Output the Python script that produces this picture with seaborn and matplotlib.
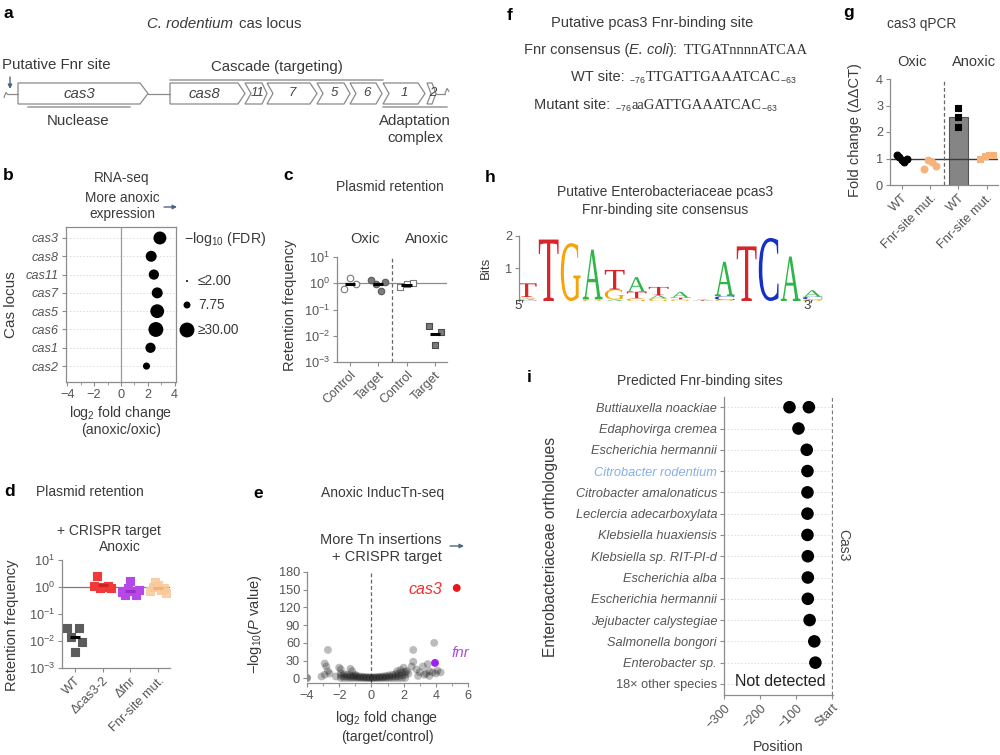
import numpy as np
import pandas as pd
import matplotlib
matplotlib.use("Agg")
import matplotlib.pyplot as plt
import seaborn as sns
from matplotlib.patches import Polygon, PathPatch
from matplotlib.textpath import TextPath
from matplotlib.font_manager import FontProperties
from matplotlib.transforms import Affine2D
from matplotlib.offsetbox import TextArea, HPacker, AnnotationBbox, DrawingArea
from matplotlib.ticker import FixedLocator, MultipleLocator, LogFormatterMathtext, NullLocator

# ---------------- data ----------------
# a: gene diagram
a_genes = ["cas3", "cas8", "11", "7", "5", "6", "1", "2"]

# b: RNA-seq
b_genes = ["cas3", "cas8", "cas11", "cas7", "cas5", "cas6", "cas1", "cas2"]
b_log2fc = [2.9, 2.25, 2.45, 2.7, 2.7, 2.6, 2.2, 1.9]
b_fdr = [23, 17, 15, 17, 26, 30, 15, 8]
b_legend_vals = [2.0, 7.75, 30.0]
b_legend_labels = ["\u22642.00", "7.75", "\u226530.00"]

# c: plasmid retention
c_labels = ["Control", "Target", "Control", "Target"]
c_ctrl_oxic = [0.6, 1.6, 0.9]
c_tgt_oxic = [1.3, 0.95, 0.52, 1.1]
c_ctrl_anox = [0.7, 0.95, 1.0]
c_tgt_anox = [0.024, 0.0045, 0.0135]

# d: plasmid retention + CRISPR target, anoxic
d_labels = ["WT", "\u0394cas3-2", "\u0394fnr", "Fnr-site mut."]
d_wt = [0.03, 0.014, 0.004, 0.03, 0.009]
d_cas3 = [1.1, 2.5, 0.95, 1.0, 1.0, 1.05, 0.9]
d_fnr = [0.65, 0.5, 0.9, 1.6, 0.7, 0.5, 0.75]
d_site = [0.7, 1.0, 1.5, 1.2, 0.8, 0.9, 0.6]

# e: InducTn-seq volcano
e_band_x = [-1.9, -1.7, -1.5, -1.3, -1.1, -0.9, -0.7, -0.5, -0.3, -0.1, 0.1,
            0.3, 0.5, 0.7, 0.9, 1.1, 1.3, 1.5, 1.7, 1.9, 2.1]
e_band_hi = [8, 7, 6, 5, 4.5, 4, 3, 2.5, 2, 1.5, 1.5, 2, 2.5, 3, 4, 5, 6, 7, 8, 10, 11]
e_band_mid = [4, 3.5, 3, 2.5, 2.5, 2, 1.5, 1.5, 1, 1, 1, 1, 1.5, 1.5, 2, 2.5, 3, 3.5, 4, 5, 6]
e_band_lo = [0.5, 0.5, 0.5, 0.5, 0.5, 0.5, 0.5, 0.5, 0.5, 0.5, 0.5, 0.5, 0.5, 0.5,
             0.5, 0.5, 0.5, 0.5, 0.5, 0.5, 0.5]
e_out_x = [-4.0, -4.0, -3.1, -2.9, -2.8, -2.7, -2.7, -2.6, -2.9, -2.2, -2.0, -1.9,
           -1.3, -1.2, -1.0, 1.6, 1.8, 2.0, 2.2, 2.3, 2.5, 2.6, 2.6, 2.8, 3.0, 3.2,
           3.4, 3.5, 3.6, 3.8, 3.9, 4.1, 4.3, 3.3, 2.9, 3.6, 4.0]
e_out_y = [0, 1, 3, 25, 20, 48, 12, 8, 6, 3, 18, 15, 16, 12, 6, 12, 14, 18, 12, 8,
           20, 28, 48, 15, 10, 20, 8, 24, 12, 10, 60, 13, 10, 6, 4, 4, 8]
e_cas3 = (5.3, 153)
e_fnr = (3.95, 26)

# g: cas3 qPCR
g_labels = ["WT", "Fnr-site mut.", "WT", "Fnr-site mut."]
g_groups = ["WT oxic", "Site oxic", "WT anoxic", "Site anoxic"]
g_wt_oxic = [1.12, 1.05, 0.95, 0.88, 1.0]
g_site_oxic = [0.6, 0.95, 0.85, 0.72]
g_wt_anox = [2.9, 2.55, 2.2]
g_site_anox = [0.97, 1.1, 1.13, 1.12]

# h: sequence logo (bits per letter, positions 1..14)
logo_A = [0.04, 0, 0, 1.52, 0.05, 0.45, 0.10, 0.18, 0.03, 1.05, 0, 0, 1.36, 0.20]
logo_C = [0.03, 0, 0, 0, 0, 0, 0, 0, 0, 0.12, 0, 1.93, 0, 0.08]
logo_G = [0.05, 0, 1.77, 0.05, 0.30, 0.08, 0.08, 0.05, 0, 0.03, 0, 0, 0, 0.05]
logo_T = [0.42, 1.88, 0, 0, 0.60, 0.20, 0.25, 0.05, 0.02, 0, 1.67, 0, 0, 0]

# i: predicted Fnr-binding sites
i_species = ["Buttiauxella noackiae", "Edaphovirga cremea", "Escherichia hermannii",
             "Citrobacter rodentium", "Citrobacter amalonaticus", "Leclercia adecarboxylata",
             "Klebsiella huaxiensis", "Klebsiella sp. RIT-PI-d", "Escherichia alba",
             "Escherichia hermannii", "Jejubacter calystegiae", "Salmonella bongori",
             "Enterobacter sp.", "18\u00d7 other species"]
i_site_row = [0, 0, 1, 2, 3, 4, 5, 6, 7, 8, 9, 10, 11, 12]
i_site_pos = [-118, -64, -93, -70, -68, -68, -68, -68, -67, -67, -67, -62, -49, -46]

# ---------------- style ----------------
sns.set_theme(style="ticks")
plt.rcParams["font.family"] = ["Liberation Sans", "DejaVu Sans"]
plt.rcParams.update({
    "font.size": 9.5,
    "mathtext.fontset": "custom",
    "mathtext.rm": "Liberation Sans",
    "mathtext.it": "Liberation Sans:italic",
    "mathtext.bf": "Liberation Sans:bold",
    "axes.unicode_minus": True,
})

TXT = "#3a3a3a"
TICK = "#555555"
SPINE = "#8c8c8c"
TICKSIZE = 9.2

W, H = 1000, 755
fig = plt.figure(figsize=(W / 100, H / 100), dpi=100)
fig.patch.set_facecolor("white")


def px_axes(l, t, r, b):
    ax = fig.add_axes([l / W, 1 - b / H, (r - l) / W, (b - t) / H])
    ax.set_facecolor("none")
    return ax


def style_axes(ax, box=False):
    for s in ["top", "right"]:
        ax.spines[s].set_visible(box)
    for s in ax.spines.values():
        s.set_color(SPINE)
        s.set_linewidth(0.9)
    ax.tick_params(which="major", colors=SPINE, labelcolor=TICK, length=3, width=0.8,
                   labelsize=TICKSIZE, pad=2)
    ax.tick_params(which="minor", colors=SPINE, length=2, width=0.6)
    ax.set_xlabel("")
    ax.set_ylabel("")


def gmean(v):
    return float(np.exp(np.mean(np.log(v))))


def strip(ax, pos, values, marker, fc, ec, s, spread=0.25, alpha=1.0, lw=0.8,
          center=None, ccol="black"):
    vals = np.asarray(values, dtype=float)
    offs = np.linspace(-spread, spread, len(vals)) if len(vals) > 1 else np.zeros(1)
    sns.scatterplot(x=pos + offs, y=vals, marker=marker, color=fc, edgecolor=ec, s=s,
                    linewidth=lw, alpha=alpha, ax=ax, legend=False, zorder=3)
    if center is not None:
        ax.hlines(center(vals), pos - 0.18, pos + 0.18, color=ccol, lw=2.2, zorder=4)


# ---------------- panel b ----------------
B_SMIN, B_SMAX = 2, 115
axb = px_axes(66, 227, 176, 382)
dfb = pd.DataFrame({"gene": b_genes, "log2fc": b_log2fc, "fdr": b_fdr})
dfb["row"] = np.arange(len(dfb))
for r in dfb["row"]:
    axb.axhline(r, color="#d9d9d9", lw=0.6, ls=(0, (2, 2)), zorder=0)
axb.axvline(0, color="#9a9a9a", lw=0.9, zorder=1)
sns.scatterplot(data=dfb, x="log2fc", y="row", size="fdr", sizes=(B_SMIN, B_SMAX),
                size_norm=(2, 30), color="black", edgecolor="none", legend=False,
                ax=axb, zorder=3)
axb.set_xlim(-4.1, 4.1)
axb.set_ylim(len(dfb) - 0.13, -0.6)
axb.set_yticks(dfb["row"], dfb["gene"], style="italic")
axb.set_xticks([-4, -2, 0, 2, 4])
axb.xaxis.set_minor_locator(MultipleLocator(1))
style_axes(axb, box=True)

# ---------------- panel c ----------------
axc = px_axes(337, 257, 447, 362)
axc.set_yscale("log")
axc.axhline(1, color=SPINE, lw=0.9, zorder=1)
axc.axvline(1.5, color="#666666", lw=0.9, ls=(0, (3, 2)), zorder=1)
strip(axc, 0, c_ctrl_oxic, "o", "white", "#7a7a7a", 22, spread=0.22, center=gmean)
strip(axc, 1, c_tgt_oxic, "o", "#7a7a7a", "#5a5a5a", 22, spread=0.25, center=gmean)
strip(axc, 2, c_ctrl_anox, "s", "white", "#7a7a7a", 20, spread=0.22, center=gmean)
strip(axc, 3, c_tgt_anox, "s", "#7a7a7a", "#4a4a4a", 22, spread=0.22, center=gmean)
axc.set_ylim(1e-3, 1e1)
axc.set_xlim(-0.46, 3.43)
axc.yaxis.set_major_locator(FixedLocator([1e-3, 1e-2, 1e-1, 1, 10]))
axc.yaxis.set_major_formatter(LogFormatterMathtext())
axc.yaxis.set_minor_locator(NullLocator())
axc.set_xticks(range(4), c_labels, rotation=45, ha="right", rotation_mode="anchor")
style_axes(axc)

# ---------------- panel d ----------------
axd = px_axes(62, 560, 170, 668)
axd.set_yscale("log")
axd.axhline(1, color="#7a7a7a", lw=0.9, zorder=1)
strip(axd, 0, d_wt, "s", "#5c5c5c", "#5c5c5c", 26, spread=0.27, center=gmean)
strip(axd, 1, d_cas3, "s", "#f03a3a", "#f03a3a", 26, spread=0.3, center=gmean, ccol="#d02020")
strip(axd, 2, d_fnr, "s", "#b648e8", "#b648e8", 26, spread=0.3, center=gmean, ccol="#9a30c8")
strip(axd, 3, d_site, "s", "#f9c99a", "#f9c99a", 26, spread=0.3, alpha=0.85, center=gmean,
      ccol="#f2b27a")
axd.set_ylim(1e-3, 1e1)
axd.set_xlim(-0.46, 3.43)
axd.yaxis.set_major_locator(FixedLocator([1e-3, 1e-2, 1e-1, 1, 10]))
axd.yaxis.set_major_formatter(LogFormatterMathtext())
axd.yaxis.set_minor_locator(NullLocator())
axd.set_xticks(range(4), d_labels, rotation=45, ha="right", rotation_mode="anchor")
style_axes(axd)

# ---------------- panel e ----------------
axe = px_axes(307, 572, 468, 683)
axe.axvline(0, color="#666666", lw=0.9, ls=(0, (3, 2)), zorder=1)
e_x = list(e_band_x) * 3 + list(e_out_x)
e_y = list(e_band_hi) + list(e_band_mid) + list(e_band_lo) + list(e_out_y)
sns.scatterplot(x=e_x, y=e_y, color="#222222", alpha=0.3, s=32, edgecolor="none",
                ax=axe, legend=False, zorder=2)
sns.scatterplot(x=[e_fnr[0]], y=[e_fnr[1]], color="#a020f0", s=32, edgecolor="none",
                ax=axe, legend=False, zorder=4)
sns.scatterplot(x=[e_cas3[0]], y=[e_cas3[1]], color="#e8161b", s=32, edgecolor="none",
                ax=axe, legend=False, zorder=4)
axe.text(4.4, 150, "cas3", color="#f03030", style="italic", fontsize=11.5, ha="right",
         va="center")
axe.text(5.5, 43, "fnr", color="#a94fe0", style="italic", fontsize=11, ha="center",
         va="center")
axe.set_xlim(-4, 6)
axe.set_ylim(-8, 180)
axe.set_xticks([-4, -2, 0, 2, 4, 6])
axe.xaxis.set_minor_locator(MultipleLocator(1))
axe.set_yticks([0, 30, 60, 90, 120, 150, 180])
style_axes(axe)
axe.spines["left"].set_bounds(0, 180)

# ---------------- panel g ----------------
axg = px_axes(890, 79, 998, 185)
dfg = pd.DataFrame({
    "grp": np.repeat(g_groups, [len(g_wt_oxic), len(g_site_oxic), len(g_wt_anox),
                                len(g_site_anox)]),
    "val": np.concatenate([g_wt_oxic, g_site_oxic, g_wt_anox, g_site_anox]),
})
sns.barplot(data=dfg, x="grp", y="val", hue="grp", order=g_groups,
            palette=dict(zip(g_groups, ["white", "white", "#858585", "white"])),
            errorbar=None, width=0.67, legend=False, ax=axg, zorder=1)
for k, p in enumerate(axg.patches):
    p.set_edgecolor("#555555" if k == 2 else "none")
    p.set_linewidth(0.8)
axg.axhline(1, color="#3a3a3a", lw=1.0, zorder=2)
axg.axvline(1.5, color="#666666", lw=0.9, ls=(0, (3, 2)), zorder=2)
strip(axg, 0, g_wt_oxic, "o", "black", "black", 24, spread=0.18)
strip(axg, 1, g_site_oxic, "o", "#f7b27a", "#f7b27a", 24, spread=0.22)
strip(axg, 2, g_wt_anox, "s", "black", "black", 22, spread=0.0)
strip(axg, 3, g_site_anox, "s", "#f7b27a", "#f7b27a", 24, spread=0.22)
axg.set_ylim(0, 4)
axg.set_xlim(-0.41, 3.4)
axg.set_yticks([0, 1, 2, 3, 4])
axg.set_xticks(range(4), g_labels, rotation=45, ha="right", rotation_mode="anchor")
style_axes(axg)

# ---------------- panel h (sequence logo) ----------------
axh = px_axes(519, 234, 823, 301)
logo_colors = {"A": "#2fb54a", "C": "#1530c8", "G": "#f5a30a", "T": "#d7262b"}
logo_fp = FontProperties(family="Liberation Serif")
logo_table = {"A": logo_A, "C": logo_C, "G": logo_G, "T": logo_T}
for i in range(len(logo_A)):
    pos = i + 1
    stack = sorted([(logo_table[ch][i], ch) for ch in "ACGT" if logo_table[ch][i] > 0])
    y0 = 0.0
    for h, ch in stack:
        tp = TextPath((0, 0), ch, size=1, prop=logo_fp)
        bb = tp.get_extents()
        tr = (Affine2D().translate(-bb.x0, -bb.y0)
              .scale(0.9 / bb.width, h / bb.height)
              .translate(pos - 0.45, y0))
        axh.add_patch(PathPatch(tr.transform_path(tp), fc=logo_colors[ch], ec="none"))
        y0 += h
axh.set_xlim(0.65, 14.47)
axh.set_ylim(0, 2.05)
axh.set_yticks([1, 2])
axh.set_xticks([])
style_axes(axh)
axh.spines["bottom"].set_visible(False)
axh.spines["left"].set_bounds(0, 2)

# ---------------- panel i ----------------
axi = px_axes(724, 397, 833, 695)
for r in range(len(i_species)):
    axi.axhline(r, color="#dcdcdc", lw=0.6, ls=(0, (2, 2)), zorder=0)
axi.axvline(0, color="#7a7a7a", lw=0.9, ls=(0, (3, 2)), zorder=1)
sns.scatterplot(x=i_site_pos, y=i_site_row, color="black", s=82, edgecolor="none",
                ax=axi, legend=False, zorder=3)
axi.set_xlim(-300, 3)
axi.set_ylim(len(i_species) - 0.48, -0.48)
axi.set_yticks(range(len(i_species)), i_species)
axi.set_xticks([-300, -200, -100, 0], ["\u2212300", "\u2212200", "\u2212100", "Start"],
               rotation=45, ha="right", rotation_mode="anchor")
style_axes(axi)
for k, lab in enumerate(axi.get_yticklabels()):
    if k < len(i_species) - 1:
        lab.set_style("italic")
    if i_species[k] == "Citrobacter rodentium":
        lab.set_color("#86aee8")

# ---------------- overlay: text, panel a diagram ----------------
ov = fig.add_axes([0, 0, 1, 1], zorder=10)
ov.set_xlim(0, W)
ov.set_ylim(H, 0)
ov.axis("off")
ov.patch.set_alpha(0)


def T(x, y, s, size=9.8, color=TXT, ha="center", va="center", **kw):
    ov.text(x, y, s, fontsize=size, color=color, ha=ha, va=va, **kw)


def rich(x, y, parts, ha=0.5):
    kids = []
    for s, props in parts:
        if s is None:
            kids.append(DrawingArea(props, 1))
        else:
            kids.append(TextArea(s, textprops=props))
    hp = HPacker(children=kids, align="baseline", pad=0, sep=0)
    ab = AnnotationBbox(hp, (x, y), xycoords="data", frameon=False,
                        box_alignment=(ha, 0.5), pad=0)
    ov.add_artist(ab)


def arrow(x0, y0, x1, y1, color="#4d6680"):
    ov.annotate("", xy=(x1, y1), xytext=(x0, y0),
                arrowprops=dict(arrowstyle="-|>", color=color, lw=1.0, mutation_scale=6,
                                shrinkA=0, shrinkB=0))


# panel letters
for lx, ly, lt in [(3, 14, "a"), (3, 175, "b"), (283, 176, "c"), (4, 492, "d"),
                   (253, 493, "e"), (507, 15, "f"), (843, 12, "g"), (485, 178, "h"),
                   (527, 377, "i")]:
    T(lx, ly, lt, size=12.5, color="black", ha="left", weight="heavy")

# panel a
ASZ = 10.8
REGA = dict(fontsize=ASZ, color=TXT)
rich(224, 24, [("C. rodentium", dict(fontsize=ASZ, color=TXT, style="italic")), (None, 4),
               ("cas locus", REGA)])
T(2, 65, "Putative Fnr site", size=ASZ, ha="left")
T(277, 67, "Cascade (targeting)", size=ASZ)
T(78, 121, "Nuclease", size=ASZ)
T(415, 121, "Adaptation", size=ASZ)
T(415, 138, "complex", size=ASZ)
arrow(10, 77, 10, 89)
ov.plot([170, 383], [80, 80], color="#a8a8a8", lw=1.3)
ov.plot([28, 130], [107, 107], color="#a8a8a8", lw=1.3)
ov.plot([383, 447], [107, 107], color="#a8a8a8", lw=1.3)
YC, GH = 93.5, 21
ov.plot([7, 18], [YC, YC], color="#8a8a8a", lw=0.9)
ov.plot([148, 170], [YC, YC], color="#8a8a8a", lw=0.9)
ov.plot([436, 445], [YC, YC], color="#8a8a8a", lw=0.9)
ov.plot([4, 6, 7], [YC + 4, YC - 1, YC], color="#8a8a8a", lw=0.9)
ov.plot([445, 447, 449], [YC, YC - 5, YC - 2], color="#8a8a8a", lw=0.9)
gene_spans = [(18, 148, 0, 8), (170, 245, 0, 7), (245, 267, 6, 5), (267, 317, 6, 7),
              (317, 350, 6, 6), (350, 382, 6, 6), (383, 425, 6, 7), (427, 436, 4, 4)]
for name, (x0, x1, notch, head) in zip(a_genes, gene_spans):
    top, bot = YC - GH / 2, YC + GH / 2
    pts = [(x0, top), (x1 - head, top), (x1, YC), (x1 - head, bot), (x0, bot)]
    if notch:
        pts.append((x0 + notch, YC))
    ov.add_patch(Polygon(pts, closed=True, fc="white", ec="#8a8a8a", lw=0.9))
    cx = (x0 + x1 - head + notch) / 2 + (1 if notch else 0)
    T(cx, YC, name, size=10.8 if len(name) > 2 else 9.5, style="italic", color="#444444")

# panel b text
T(122, 178, "RNA-seq")
T(122, 198, "More anoxic")
T(122, 214, "expression")
arrow(164, 207, 177, 207)
T(184, 239, "\u2212log$_{10}$ (FDR)", size=10.2, ha="left")
for v, lab, yy in zip(b_legend_vals, b_legend_labels, [281, 305, 330]):
    sz = B_SMIN + (min(max(v, 2), 30) - 2) / 28 * (B_SMAX - B_SMIN)
    ov.scatter([187], [yy], s=sz, color="black", edgecolor="none")
    T(198, yy, lab, size=9.8, ha="left")
T(11, 305, "Cas locus", size=11, rotation=90)
T(121, 413, "log$_2$ fold change", size=10.2)
T(121, 430, "(anoxic/oxic)", size=10.2)

# panel c text
T(390, 187, "Plasmid retention", size=10)
T(365, 239, "Oxic", size=10.5)
T(427, 239, "Anoxic", size=10.5)
T(290, 305, "Retention frequency", size=10.5, rotation=90)

# panel d text
T(90, 492, "Plasmid retention", size=10)
T(109, 531, "+ CRISPR target", size=10)
T(120, 547, "Anoxic", size=10)
T(12, 625, "Retention frequency", size=10.5, rotation=90)

# panel e text
T(383, 493, "Anoxic InducTn-seq", size=10)
T(442, 540, "More Tn insertions", ha="right", size=10.5)
T(442, 557, "+ CRISPR target", ha="right", size=10.5)
arrow(450, 546, 464, 546)
T(255, 624, "\u2212log$_{10}$($P$ value)", size=10.5, rotation=90)
T(387, 718, "log$_2$ fold change", size=10.2)
T(387, 737, "(target/control)", size=10.2)

# panel f text
FSZ = 10.5
REG = dict(fontsize=FSZ, color=TXT)
SEQ = dict(fontsize=10.5, color="#333333", family="Liberation Serif")
SUB = dict(fontsize=9, color=TXT)
T(652, 23, "Putative pcas3 Fnr-binding site", size=FSZ)
rich(666, 50, [("Fnr consensus (", REG), ("E. coli", dict(fontsize=FSZ, color=TXT, style="italic")),
               ("):", REG), (None, 4), ("TTGATnnnnATCAA", SEQ)])
rich(684, 78, [("WT site:", REG), (None, 3), ("$_{-76}$", SUB), ("TTGATTGAAATCAC", SEQ),
               ("$_{-63}$", SUB)])
rich(656, 106, [("Mutant site:", REG), (None, 3), ("$_{-76}$", SUB), ("aaGATTGAAATCAC", SEQ),
                ("$_{-63}$", SUB)])

# panel g text
T(922, 24, "cas3 qPCR", size=9.8)
T(912, 62, "Oxic", size=10.5)
T(974, 62, "Anoxic", size=10.5)
T(855, 130, "Fold change (\u0394\u0394CT)", size=10.5, rotation=90)

# panel h text
T(665, 192, "Putative Enterobacteriaceae pcas3", size=10)
T(665, 210, "Fnr-binding site consensus", size=10)
T(486, 268, "Bits", size=9.5, rotation=90)
T(519, 306, "5\u2032", size=9.5)
T(808, 306, "3\u2032", size=9.5)

# panel i text
T(700, 381, "Predicted Fnr-binding sites", size=10)
T(780, 682, "Not detected", size=11.5, color="#222222")
T(843, 545, "Cas3", size=10, rotation=270, color="#444444")
T(551, 547, "Enterobacteriaceae orthologues", size=11.2, rotation=90)
T(778, 747, "Position", size=10.2)

fig.savefig("out.png", dpi=100)
